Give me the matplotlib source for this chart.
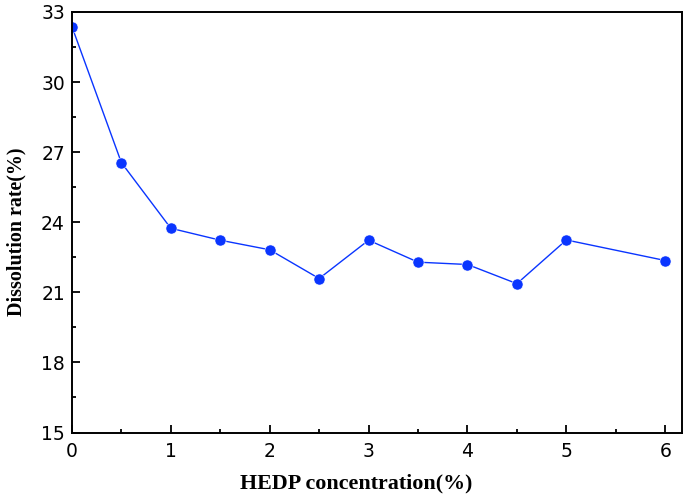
import matplotlib
matplotlib.use("Agg")
import matplotlib.pyplot as plt
from matplotlib.ticker import MultipleLocator

# HEDP concentration (%) and dissolution rate (%)
conc = [0, 0.5, 1, 1.5, 2, 2.5, 3, 3.5, 4, 4.5, 5, 6]
rate = [32.37, 26.55, 23.74, 23.23, 22.82, 21.59, 23.23, 22.29, 22.19, 21.37, 23.24, 22.36]

fig = plt.figure(figsize=(6.85, 4.96), dpi=100)
ax = fig.add_axes([0.105, 0.128, 0.89, 0.848])

ax.plot(conc, rate, color="#0a35ff", lw=1.0, marker="o", markersize=8,
        markeredgecolor="white", markeredgewidth=0.4)

ax.set_xlim(0, 6.165)
ax.set_ylim(15, 33)
ax.xaxis.set_major_locator(MultipleLocator(1))
ax.xaxis.set_minor_locator(MultipleLocator(0.5))
ax.yaxis.set_major_locator(MultipleLocator(3))
ax.yaxis.set_minor_locator(MultipleLocator(1.5))

ax.tick_params(which="both", direction="in", width=1.3, labelsize=13.5)
ax.tick_params(which="major", length=6)
ax.tick_params(which="minor", length=3)
ax.tick_params(axis="x", pad=7)
ax.tick_params(axis="y", pad=5)
for lab in ax.get_xticklabels() + ax.get_yticklabels():
    lab.set_fontfamily("DejaVu Sans")
for s in ax.spines.values():
    s.set_linewidth(1.4)

ax.set_xlabel("HEDP concentration(%)", fontfamily="Liberation Serif",
              fontweight="bold", fontsize=15.8)
ax.set_ylabel("Dissolution rate(%)", fontfamily="Liberation Serif",
              fontweight="bold", fontsize=14.4)
ax.xaxis.set_label_coords(0.466, -0.098)
ax.yaxis.set_label_coords(-0.0743, 0.477)

fig.savefig("out.png", dpi=100)
